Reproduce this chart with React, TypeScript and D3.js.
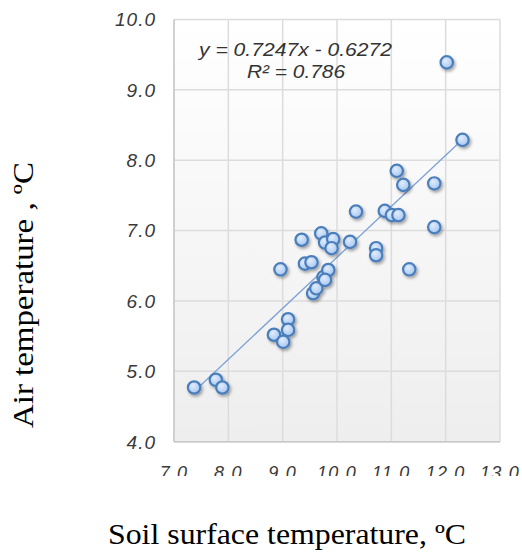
import * as d3 from 'd3';

// Soil surface temperature (ºC) vs air temperature (ºC)
const soilTemp = [
  7.37, 7.77, 7.89, 8.84, 9.1, 9.1, 9.01, 8.96, 9.35, 9.41, 9.53, 9.56,
  9.62, 9.71, 9.78, 9.93, 9.9, 9.75, 9.84, 9.78, 10.24, 10.35, 10.72, 10.72,
  10.88, 11.01, 11.13, 11.1, 11.22, 11.79, 11.79, 11.33, 12.02, 12.31,
];
const airTemp = [
  4.77, 4.88, 4.77, 5.52, 5.74, 5.59, 5.42, 6.45, 6.87, 6.53, 6.55, 6.11,
  6.18, 6.96, 6.83, 6.88, 6.75, 6.34, 6.44, 6.3, 6.84, 7.27, 6.75, 6.65,
  7.28, 7.22, 7.22, 7.85, 7.65, 7.67, 7.05, 6.45, 9.39, 8.29,
];
const xTicks = [7, 8, 9, 10, 11, 12, 13];
const yTicks = [4, 5, 6, 7, 8, 9, 10];
const slope = 0.7247;
const intercept = -0.6272;
const equationLabel = 'y = 0.7247x - 0.6272';
const r2Label = 'R² = 0.786';
const xTitle = 'Soil surface temperature, ºC';
const yTitle = 'Air temperature , ºC';

export default function App() {
  const width = 522;
  const height = 556;
  const plot = { left: 174, right: 500, top: 19.5, bottom: 441.7 };

  const x = d3.scaleLinear().domain([7, 13]).range([plot.left, plot.right]);
  const y = d3.scaleLinear().domain([4, 10]).range([plot.bottom, plot.top]);

  const points = soilTemp.map((s, i) => ({ s, a: airTemp[i] }));
  const [xMin, xMax] = d3.extent(soilTemp) as [number, number];
  const trend = d3
    .line<number>()
    .x((d) => x(d))
    .y((d) => y(slope * d + intercept));

  const tickFont = "'Liberation Sans', Arial, sans-serif";
  const titleFont = "'Liberation Serif', 'Times New Roman', serif";
  const fmt = d3.format('.1f');

  return (
    <svg
      width={width}
      height={height}
      style={{ position: 'absolute', left: 0, top: 0, background: '#fff' }}
    >
      <defs>
        <linearGradient id="plotBg" x1="0" y1="0" x2="0" y2="1">
          <stop offset="0" stopColor="#ffffff" />
          <stop offset="1" stopColor="#eeeeee" />
        </linearGradient>
        <radialGradient id="marker" cx="0.4" cy="0.35" r="0.7">
          <stop offset="0" stopColor="#e0ecfc" />
          <stop offset="1" stopColor="#a3c4f0" />
        </radialGradient>
        <filter id="shadow" x="-50%" y="-50%" width="200%" height="200%">
          <feDropShadow dx="1.5" dy="2" stdDeviation="1.5" floodColor="#000" floodOpacity="0.35" />
        </filter>
        <clipPath id="xLabelClip">
          <rect x={0} y={0} width={width} height={476} />
        </clipPath>
      </defs>

      {/* plot area */}
      <rect
        x={plot.left}
        y={plot.top}
        width={plot.right - plot.left}
        height={plot.bottom - plot.top}
        fill="url(#plotBg)"
      />
      {xTicks.map((t) => (
        <line
          key={'gx' + t}
          x1={x(t)}
          x2={x(t)}
          y1={plot.top}
          y2={plot.bottom}
          stroke="#dcdcdc"
          strokeWidth={1.5}
        />
      ))}
      {yTicks.map((t) => (
        <line
          key={'gy' + t}
          x1={plot.left}
          x2={plot.right}
          y1={y(t)}
          y2={y(t)}
          stroke="#dcdcdc"
          strokeWidth={1.5}
        />
      ))}
      <line x1={plot.left} x2={plot.left} y1={plot.top} y2={plot.bottom} stroke="#c8c8c8" strokeWidth={1.5} />
      <line x1={plot.left} x2={plot.right} y1={plot.bottom} y2={plot.bottom} stroke="#c8c8c8" strokeWidth={1.5} />

      {/* tick labels */}
      {yTicks.map((t) => (
        <text
          key={'ty' + t}
          x={156}
          y={y(t)}
          dy="0.36em"
          textAnchor="end"
          fontFamily={tickFont}
          fontStyle="italic"
          fontSize={19}
          letterSpacing={1}
          fill="#3a3a3a"
        >
          {fmt(t)}
        </text>
      ))}
      <g clipPath="url(#xLabelClip)">
        {xTicks.map((t) => (
          <text
            key={'tx' + t}
            x={x(t)}
            y={479}
            textAnchor="middle"
            fontFamily={tickFont}
            fontStyle="italic"
            fontSize={18}
            letterSpacing={1.2}
            fill="#3a3a3a"
          >
            {fmt(t)}
          </text>
        ))}
      </g>

      {/* trendline */}
      <path d={trend([xMin, xMax]) || ''} fill="none" stroke="#7ba2d6" strokeWidth={1.3} />

      {/* points */}
      <g filter="url(#shadow)">
        {points.map((p, i) => (
          <circle
            key={i}
            cx={x(p.s)}
            cy={y(p.a)}
            r={6.2}
            fill="url(#marker)"
            stroke="#4a7ebb"
            strokeWidth={2.2}
          />
        ))}
      </g>

      {/* equation */}
      <text
        x={199}
        y={56}
        textLength={193}
        lengthAdjust="spacingAndGlyphs"
        fontFamily={tickFont}
        fontStyle="italic"
        fontSize={19}
        fill="#333"
      >
        {equationLabel}
      </text>
      <text
        x={247}
        y={78}
        textLength={98}
        lengthAdjust="spacingAndGlyphs"
        fontFamily={tickFont}
        fontStyle="italic"
        fontSize={19}
        fill="#333"
      >
        {r2Label}
      </text>

      {/* axis titles */}
      <text
        x={108}
        y={544}
        textLength={358}
        lengthAdjust="spacingAndGlyphs"
        fontFamily={titleFont}
        fontSize={29}
        fill="#000"
      >
        {xTitle}
      </text>
      <text
        transform="translate(33,428) rotate(-90)"
        textLength={266}
        lengthAdjust="spacingAndGlyphs"
        fontFamily={titleFont}
        fontSize={29}
        fill="#000"
      >
        {yTitle}
      </text>
    </svg>
  );
}
